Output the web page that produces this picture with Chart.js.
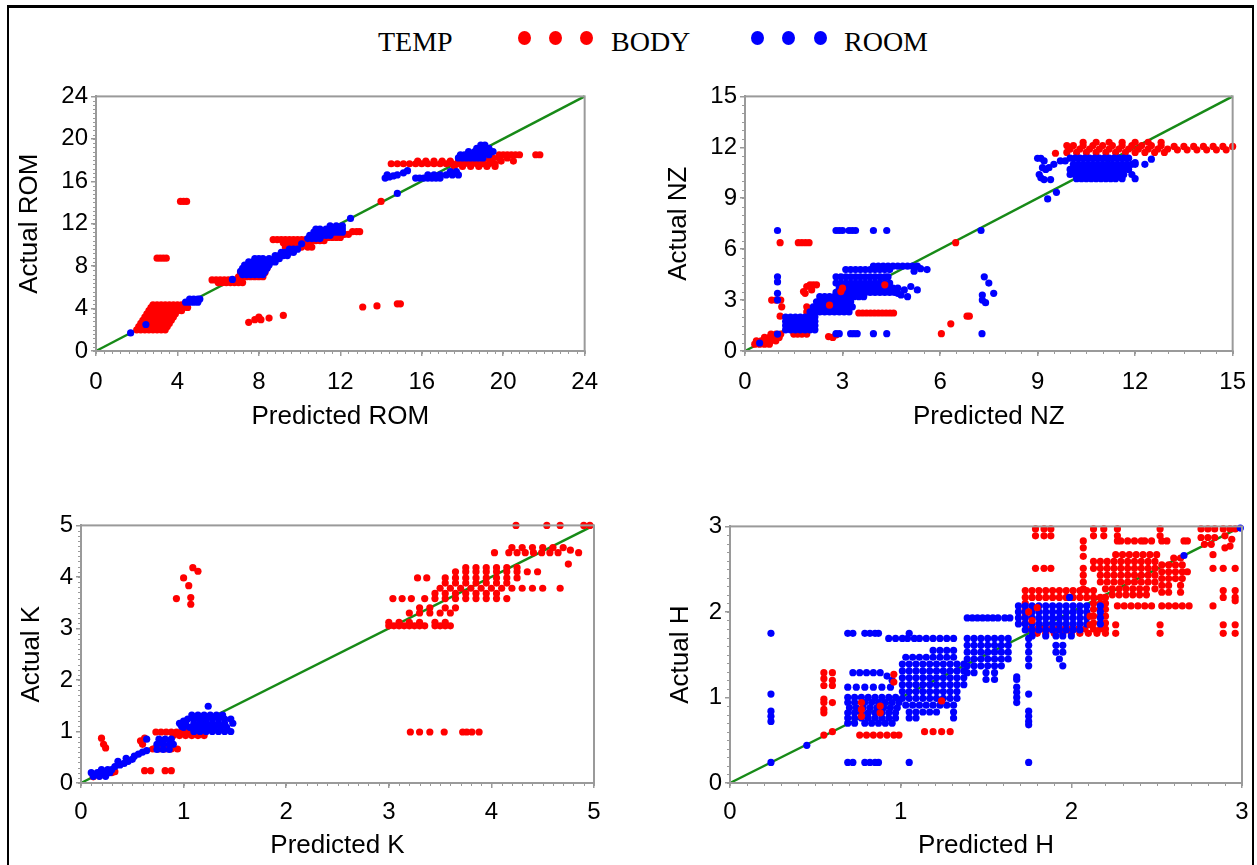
<!DOCTYPE html>
<html><head><meta charset="utf-8">
<script src="https://cdn.jsdelivr.net/npm/chart.js@4.4.1/dist/chart.umd.min.js"></script>
<style>
html,body{margin:0;padding:0;width:1257px;height:865px;overflow:hidden;background:#fff;position:relative;}
#frame{position:absolute;left:7px;top:5px;width:1247px;height:900px;border:2px solid #000;border-top-width:3px;box-sizing:border-box;}
.lg{position:absolute;font-family:"Liberation Serif","Times New Roman",serif;font-size:28px;color:#000;line-height:1;white-space:nowrap;}
.dot{position:absolute;width:13px;height:14px;border-radius:50%;}
</style></head><body>
<div id="frame"></div>
<div class="lg" style="left:378px;top:28px">TEMP</div>
<div class="dot" style="left:518px;top:31px;background:#f00"></div>
<div class="dot" style="left:549px;top:31px;background:#f00"></div>
<div class="dot" style="left:580px;top:31px;background:#f00"></div>
<div class="lg" style="left:611px;top:28px">BODY</div>
<div class="dot" style="left:751px;top:31px;background:#00f"></div>
<div class="dot" style="left:782px;top:31px;background:#00f"></div>
<div class="dot" style="left:814px;top:31px;background:#00f"></div>
<div class="lg" style="left:844px;top:28px">ROOM</div>
<script>
// ---------- data: rows are [actual, predicted, predicted, ...] ----------
const ROM_TICKS = [0,4,8,12,16,20,24];
const NZ_TICKS = [0,3,6,9,12,15];
const K_TICKS = [0,1,2,3,4,5];
const H_TICKS = [0,1,2,3];

const ROM_BODY = [
[2.0, 2.0,2.2,2.4,2.6,2.8,3.0,3.2,3.4],
[2.3, 2.1,2.3,2.5,2.7,2.9,3.1,3.3,3.5],
[2.6, 2.2,2.4,2.6,2.8,3.0,3.2,3.4,3.6],
[2.9, 2.3,2.5,2.7,2.9,3.1,3.3,3.5,3.7],
[3.2, 2.4,2.6,2.8,3.0,3.2,3.4,3.6,3.8],
[3.5, 2.5,2.7,2.9,3.1,3.3,3.5,3.7,3.9],
[3.8, 2.6,2.8,3.0,3.2,3.4,3.6,3.8,4.0,4.2],
[4.1, 2.7,2.9,3.1,3.3,3.5,3.7,3.9,4.1,4.3,4.5],
[4.35, 2.8,3.0,3.2,3.4,3.6,3.8,4.0,4.2,4.4],
[14.1, 4.15,4.3,4.45,14.0],
[8.75, 3.0,3.15,3.3,3.45],
[6.7, 5.7,5.9,6.1,6.3,6.5,6.7,6.9,7.1],
[6.45, 6.0,6.2,6.4,6.6,6.8,7.0,7.2],
[7.0, 7.0,7.2,7.4,7.6,7.8,8.0,8.2],
[7.4, 7.1,7.5,7.9,8.3],
[7.8, 7.3,7.8,8.4],
[10.5, 8.7,8.9,9.1,9.3,9.5,9.7,9.9,10.1,10.3],
[10.2, 9.2,9.4,9.6,9.8,10.0,10.2,10.4],
[9.8, 9.3,9.5,9.7,9.9,10.1,10.4,10.6],
[10.4, 10.6,10.8,11.0,11.2],
[10.7, 10.8,11.0,11.2,11.4,11.6,11.8,12.0],
[11.0, 11.4,11.6,11.8,12.0,12.2,12.4],
[11.25, 12.6,12.8,12.95],
[2.7, 7.5],[2.95, 7.8,8.1],[3.2, 8.0],[3.1, 8.5],[3.35, 9.2],
[4.15, 13.1],[4.25, 13.8],[4.45, 14.8,14.95],
[17.65, 14.5,14.8,15.1,15.4,15.7,16.0,16.3,16.6,16.9,17.2,17.5,17.8,18.1,18.4,18.7,19.0,19.3,19.6],
[17.9, 15.8,16.2,16.6,17.0,17.4,17.8,18.2,18.6,19.0,19.4],
[17.4, 17.6,18.0,18.4,18.8,19.2,19.6],
[18.2, 18.9,19.2,19.5,19.8,20.2],
[18.5, 19.8,20.0,20.2,20.4,20.6,20.8,21.6,21.8],
[17.9, 19.9,20.5]
];
const ROM_ROOM = [
[1.7, 1.7],[2.5, 2.45],
[4.6, 4.4,4.6,4.8,5.0],[4.9, 4.6,4.8,5.0,5.1],
[6.75, 6.7],
[7.2, 7.2,7.4,7.6,7.8,8.0,8.2],
[7.5, 7.1,7.3,7.5,7.7,7.9,8.1,8.3],
[7.8, 7.2,7.4,7.6,7.8,8.0,8.2,8.4],
[8.1, 7.3,7.5,7.7,7.9,8.1,8.3,8.5],
[8.4, 7.5,7.7,7.9,8.1,8.3,8.6,8.8],
[8.7, 7.8,8.0,8.2,8.5,8.8,9.0],
[9.0, 8.8,9.0,9.2,9.4],
[9.3, 9.1,9.3,9.5,9.7],
[9.6, 9.5,9.7,9.9],
[10.1, 10.1],
[10.6, 10.4,10.6,10.8,11.0],
[10.9, 10.5,10.7,10.9,11.1,11.3,11.5],
[11.2, 10.7,10.9,11.1,11.3,11.5,11.7,11.9,12.1],
[11.5, 10.8,11.0,11.3,11.6,11.9,12.1],
[11.8, 11.5,11.8,12.1],
[12.5, 12.5],[14.85, 14.8],
[16.3, 14.2],[16.4, 14.4],[16.5, 14.6],[16.6, 14.3,14.8],[16.8, 15.1],[17.0, 15.3],
[16.3, 15.7,15.9,16.1,16.3,16.5,16.7,16.9],
[16.6, 16.3,16.6,16.9,17.2,17.5,17.8],
[16.9, 17.4,17.7],
[18.2, 17.8,18.0,18.2,18.4,18.6,18.8,19.0],
[18.5, 17.9,18.1,18.4,18.7,19.0,19.3],
[18.8, 18.3,18.6,18.9,19.2,19.5],
[19.1, 18.7,18.9,19.1,19.3],
[19.4, 18.9,19.1]
];
const ROM_TOP = [];

const NZ_BODY = [
[0.4, 0.3,0.45,0.6,0.75],
[0.6, 0.35,0.5,0.65,0.8,0.95],
[0.8, 0.6,0.75,0.9,1.05],
[1.0, 0.8,0.95,1.1],
[2.05, 1.08],[2.6, 1.13],[3.0, 0.82,0.95,1.1],
[6.38, 1.08,1.64,1.75,1.86,1.97,6.48],
[1.0, 1.5,1.62,1.75,1.9],
[3.5, 1.8],[3.8, 1.9],[3.9, 2.0,2.1,2.2],[3.4, 1.85],[3.6, 2.05],
[2.3, 1.9],[2.6, 1.9],[2.5, 2.0],
[0.85, 2.57],[0.8, 2.7],[0.95, 2.8],
[2.24, 3.5,3.62,3.74,3.86,3.98,4.1,4.22,4.34,4.46,4.57],
[1.02, 6.04],[1.6, 6.33],[2.05, 6.83,6.9],
[11.65, 9.55],
[11.7, 9.9,10.2,10.5,10.8,11.1,11.4,11.7,12.0,12.3,12.6,12.9],
[11.9, 10.0,10.3,10.6,10.9,11.2,11.5,11.8,12.1,12.4,12.7,13.0],
[12.1, 9.9,10.1,10.4,10.7,11.0,11.3,11.6,11.9,12.2,12.5,12.8],
[12.3, 10.4,10.8,11.2,11.6,12.0,12.4,12.8],
[11.85, 13.3,13.6,13.9,14.2,14.5,14.8],
[12.05, 13.2,13.5,13.8,14.1,14.4,14.7,15.0]
];
const NZ_ROOM = [
[0.47, 0.45],[1.0, 1.0],
[7.1, 1.0],[4.37, 1.0],[4.07, 1.0],[3.4, 1.0],[3.0, 1.0],
[1.25, 1.25,1.4,1.55,1.7,1.85,2.0,2.15],
[1.5, 1.25,1.4,1.55,1.7,1.85,2.0,2.15],
[1.75, 1.25,1.4,1.55,1.7,1.85,2.0,2.15],
[2.0, 1.25,1.4,1.55,1.7,1.85,2.0,2.15],
[2.3, 2.0,2.15,2.3,2.45,2.6,2.75,2.9,3.05,3.2],
[2.6, 2.1,2.25,2.4,2.55,2.7,2.85,3.0,3.15,3.3],
[2.9, 2.2,2.35,2.5,2.65,2.8,2.95,3.1,3.25],
[3.2, 2.3,2.45,2.6,2.75,2.9,3.05,3.2,3.35,3.5,3.65],
[3.45, 2.8,2.95,3.1,3.25,3.4,3.55,3.7,3.85,4.0,4.15,4.3,4.45,4.6],
[3.7, 2.9,3.05,3.2,3.35,3.5,3.65,3.8,3.95,4.1,4.25,4.4,4.55,4.7],
[4.0, 2.8,2.95,3.1,3.25,3.4,3.55,3.7,3.85,4.0,4.15,4.3,4.45],
[4.37, 2.8,2.95,3.1,3.25,3.4,3.55,3.7,3.85,4.0,4.15,4.3,4.4,7.36],
[4.8, 3.1,3.25,3.4,3.55,3.7,3.85,4.0,4.15,4.3,4.45,5.6],
[5.0, 3.95,4.1,4.25,4.4,4.55,4.7,4.85,5.0,5.15,5.3],
[4.85, 5.4],[4.7, 5.2],
[3.4, 4.7,7.65],[3.6, 4.9,5.3],[3.8, 5.1],[3.2, 5.0],[3.3, 4.8,7.3],
[7.1, 2.8,2.9,3.0,3.2,3.3,3.4,3.95,4.36,7.26],
[1.02, 2.8,2.9,3.25,3.35,3.45,3.95,4.36,7.29],
[4.0, 7.5],[3.0, 7.3],[2.85, 7.4],
[8.96, 9.31],[9.35, 9.58],
[11.35, 9.0,9.1],[11.2, 9.2,9.7,9.85],[11.0, 9.5],[10.8, 9.15,9.35],[10.7, 9.25],[10.4, 9.05],[10.2, 9.1],[10.1, 9.2,9.4],
[11.36, 10.0,10.15,10.3,10.45,10.6,10.75,10.9,11.05,11.2,11.35,11.5,11.65,11.8],
[11.0, 10.1,10.25,10.4,10.55,10.7,10.85,11.0,11.15,11.3,11.45,11.6,11.75,11.9,12.0,12.3],
[10.7, 10.0,10.15,10.3,10.45,10.6,10.75,10.9,11.05,11.2,11.35,11.5,11.65,11.8],
[10.4, 10.0,10.15,10.3,10.45,10.6,10.75,10.9,11.05,11.2,11.35,11.5,11.65,11.9],
[10.15, 10.2,10.35,10.5,10.65,10.8,10.95,11.1,11.25,11.4,11.6,12.0],
[11.1, 12.0],[11.3, 12.5]
];
const NZ_TOP = [[3.7, 3.0],[3.5, 2.95],[3.9, 4.3],[2.7, 2.6]];

const K_BODY = [
[0.12, 0.12],[0.14, 0.18],[0.17, 0.24],[0.2, 0.3],[0.22, 0.2,0.33],[0.24, 0.27],
[0.87, 0.2],[0.75, 0.22],[0.68, 0.24],
[0.24, 0.62,0.68,0.82,0.88],
[0.82, 0.58],[0.87, 0.62],[0.75, 0.6],
[0.66, 0.7,0.76,0.82,0.88,0.94],
[0.99, 0.73,0.78,0.83,0.88,0.93,0.98,1.03,1.08,1.13,1.18,1.21],
[0.92, 0.9,0.96,1.02,1.08,1.14,1.2],
[3.58, 0.93],[3.98, 1.0],[3.83, 1.05],[3.47, 1.07],[3.6, 1.07],[4.18, 1.09],[4.11, 1.14],
[0.99, 3.21,3.3,3.4,3.54,3.72,3.76,3.81,3.88],
[3.05, 3.0,3.05,3.1,3.15,3.2,3.25,3.3,3.35,3.45,3.5,3.55,3.6],
[3.12, 3.0,3.1,3.2,3.3,3.45,3.55],
[3.3, 3.2,3.3,3.4,3.5,3.6],
[3.4, 3.3,3.4,3.55,3.65],
[3.58, 3.04,3.13,3.22,3.35,3.45,3.55,3.65,3.75,3.85,3.95,4.05,4.15],
[3.68, 3.45,3.55,3.65,3.75,3.85,3.95,4.05],
[3.78, 3.5,3.6,3.7,3.8,3.9,4.0,4.1,4.2,4.3,4.4,4.5,4.67],
[3.88, 3.55,3.65,3.75,3.85,3.95,4.05,4.15],
[3.98, 3.28,3.37,3.55,3.65,3.75,3.85,3.95,4.05,4.15,4.25],
[4.1, 3.65,3.75,3.85,3.95,4.05,4.15,4.25,4.35,4.45],
[4.18, 3.75,3.85,3.95,4.05,4.15,4.25],
[4.47, 4.03,4.17,4.25,4.33,4.41,4.49,4.57,4.65,4.85],
[4.57, 4.2,4.3,4.4,4.5,4.6,4.7],
[4.52, 4.77],
[5.0, 4.24,4.54,4.67,4.9,4.96],
[4.25, 4.75]
];
const K_ROOM = [
[0.13, 0.12,0.18,0.24],
[0.2, 0.1,0.16,0.22,0.28],
[0.26, 0.2,0.26,0.3],
[0.32, 0.33],[0.35, 0.38],[0.38, 0.42],[0.42, 0.46,0.36],[0.46, 0.5],[0.48, 0.44],
[0.52, 0.52],[0.56, 0.56],[0.6, 0.6],[0.63, 0.64],[0.85, 0.64],
[0.65, 0.74,0.8,0.86],
[0.75, 0.74,0.8,0.86,0.9],
[0.85, 0.76,0.82,0.88],
[1.0, 1.1,1.16,1.22,1.28,1.34,1.4,1.46],
[1.08, 1.0,1.06,1.12,1.18,1.24,1.3,1.36,1.42],
[1.16, 0.96,1.02,1.1,1.16,1.22,1.28,1.34,1.4,1.48],
[1.24, 1.04,1.1,1.16,1.22,1.28,1.34,1.4,1.46],
[1.32, 1.08,1.14,1.2,1.26,1.32,1.38],
[1.49, 1.24],[1.2, 1.0],[1.1, 0.98]
];
const K_TOP = [];

const H_BODY = [
[1.29, 0.55,0.6],[1.22, 0.55],[1.2, 0.6],[1.14, 0.55,0.6],[0.98, 0.55],[0.94, 0.55,0.6],[0.86, 0.55],[0.82, 0.55],
[0.56, 0.55,0.76,0.8,0.84,0.88,0.92,0.96,0.99],
[0.6, 0.6,1.14,1.19,1.24,1.29],
[0.96, 1.24],
[2.25, 1.73,1.77,1.81,1.85,1.89,1.93,1.97,2.01,2.05,2.09,2.13],
[2.17, 1.73,1.77,1.81,1.85,1.89,1.93,1.97,2.01,2.05,2.09,2.13,2.17,2.2],
[2.1, 1.73,2.13,2.17,2.2],
[2.03, 1.73,2.13,2.17,2.2],
[1.95, 1.73,2.13,2.17,2.2],
[1.87, 1.73,2.13,2.17,2.2],
[1.8, 1.76,1.8,1.84,1.88,1.92,1.96,2.0,2.04,2.08,2.13,2.17,2.2],
[1.75, 1.8,1.85,1.9,1.95,2.0,2.05,2.1,2.15,2.2,2.26,2.52,2.89,2.96],
[1.85, 2.26,2.52,2.89,2.96],
[2.97, 1.79,1.84,1.88,2.13,2.19,2.27,2.52,2.76,2.8,2.84,2.89,2.93,2.96],
[2.89, 1.79,1.84,1.88,2.13,2.19,2.27,2.52,2.9],
[2.51, 1.79,1.84,1.88,2.83,2.89,2.96],
[2.83, 2.07,2.27,2.29,2.33,2.37,2.41,2.43,2.47,2.53,2.56,2.66,2.68],
[2.75, 2.07,2.9],
[2.65, 2.07],
[2.67, 2.26,2.3,2.34,2.38,2.42,2.46,2.5,2.83],
[2.59, 2.13,2.17,2.21,2.25,2.29,2.33,2.37,2.41,2.45,2.49],
[2.51, 2.07,2.13,2.17,2.21,2.25,2.29,2.33,2.37,2.41,2.45,2.49],
[2.43, 2.07,2.17,2.21,2.25,2.29,2.33,2.37,2.41,2.45,2.49],
[2.35, 2.07,2.17,2.21,2.25,2.29,2.33,2.37,2.41,2.45,2.49],
[2.27, 2.07,2.2,2.24,2.28,2.32,2.36,2.4,2.44,2.49],
[2.2, 2.24,2.28,2.32,2.36,2.4,2.44],
[2.63, 2.6,2.64],
[2.55, 2.53,2.57,2.61,2.65],
[2.47, 2.53,2.57,2.61,2.65,2.68],
[2.39, 2.53,2.57,2.61,2.65],
[2.31, 2.53,2.57,2.64],
[2.23, 2.53,2.57,2.64],
[2.07, 2.27,2.31,2.35,2.39,2.43,2.47,2.53,2.57,2.61,2.65,2.69,2.83],
[2.87, 2.76,2.8,2.84],[2.79, 2.78,2.82],
[2.85, 2.94],[2.77, 2.93],
[2.17, 2.89,2.96],[2.25, 2.89,2.96],[2.13, 2.96]
];
const H_ROOM = [
[1.75, 0.24,0.69,0.72,0.79,0.82,0.85,0.87,1.05],
[1.04, 0.24,1.75],
[0.84, 0.24,1.75],[0.78, 0.24,1.75],[0.72, 0.24,1.75],[0.68, 1.75],
[0.24, 0.24,0.69,0.72,0.79,0.82,0.85,0.87,1.05,1.75],
[0.44, 0.45],
[1.0, 0.69,0.73,0.77,0.81,0.85,0.89,0.93,0.97],
[0.94, 0.69,0.73,0.79,0.83,0.87,0.91,0.95,0.99],
[0.88, 0.7,0.74,0.78,0.82,0.86,0.9,0.94,0.98],
[0.82, 0.69,0.73,0.77,0.81,0.85,0.89,0.93,0.97],
[0.76, 0.69,0.73,0.77,0.81,0.85,0.89,0.93,0.97],
[0.7, 0.69,0.73,0.79,0.83,0.87,0.91,0.95],
[1.12, 0.69,0.74,0.79,0.84,0.89,0.94],
[1.29, 0.72,0.76,0.8,0.84,0.88],
[1.25, 0.92],[1.2, 0.95],
[1.69, 0.93,0.97,1.01,1.04,1.08,1.11,1.15,1.19,1.23,1.27,1.31,1.39,1.43,1.47,1.51,1.55,1.59,1.63,1.75],
[1.55, 1.19,1.23,1.27,1.31],
[1.47, 1.03,1.07,1.11,1.15,1.19,1.23,1.27,1.31],
[1.39, 1.01,1.05,1.09,1.13,1.17,1.21,1.25,1.29,1.33,1.37],
[1.31, 1.01,1.05,1.09,1.13,1.17,1.21,1.25,1.29,1.33,1.37],
[1.23, 1.01,1.05,1.09,1.13,1.17,1.21,1.25,1.29,1.33,1.37],
[1.15, 1.01,1.05,1.09,1.13,1.17,1.21,1.25,1.29,1.33,1.37],
[1.07, 1.01,1.05,1.09,1.13,1.17,1.21,1.25,1.29,1.33],
[0.99, 1.01,1.05,1.09,1.13,1.17,1.21,1.25,1.29,1.33],
[0.91, 1.03,1.07,1.11,1.15,1.19,1.23,1.27,1.31],
[0.83, 1.05,1.09,1.13,1.17,1.21,1.31],
[0.76, 1.05,1.09,1.31],
[1.93, 1.39,1.42,1.45,1.48,1.51,1.54,1.57,1.61,1.64],
[1.61, 1.39,1.43,1.47,1.51,1.55,1.59,1.63,1.75,1.91,1.95],
[1.53, 1.39,1.43,1.47,1.51,1.55,1.59,1.63,1.75,1.91,1.95],
[1.45, 1.39,1.43,1.47,1.51,1.55,1.59,1.63,1.75,1.93],
[1.37, 1.39,1.43,1.47,1.51,1.55,1.59,1.75,1.95],
[1.29, 1.39,1.43,1.5,1.55],
[1.21, 1.5,1.55,1.68],
[1.24, 1.68],[1.12, 1.68],[1.06, 1.68],[1.0, 1.68],[0.94, 1.68],
[2.07, 1.69,1.73,1.77,1.81,1.85,1.89,1.93,1.97,2.01,2.05,2.09,2.17],
[2.0, 1.69,1.73,1.77,1.81,1.85,1.89,1.93,1.97,2.01,2.05,2.09,2.17],
[1.93, 1.69,1.73,1.77,1.81,1.85,1.89,1.93,1.97,2.01,2.05,2.09,2.17],
[1.86, 1.69,1.73,1.77,1.81,1.85,1.89,1.93,1.97,2.01,2.05,2.09,2.17],
[1.79, 1.73,1.77,1.81,1.85,1.89,1.93,1.97,2.01,2.05],
[1.72, 1.77,1.85,1.91,1.95,2.0],
[2.17, 1.99],
[2.66, 2.66],[2.98, 2.99]
];
const H_TOP = [[0.78, 0.77],[0.86, 0.77],[0.94, 0.77],[0.82, 0.88],[0.9, 0.88],[1.18, 0.96],[1.27, 0.96],[0.96, 1.24],[2.0, 1.75],[1.9, 1.77],[2.05, 1.8],[1.85, 2.11],[1.95, 2.11]];

// ---------- rendering ----------
const RED = '#ff0000', BLUE = '#0000ff', GREEN = '#178a17', GREY = '#9a9a9a';
const AXW = 95, AXH = 90, PADT = 16, PADR = 22, PR = 3.6;

const PANELS = [
 {L:96, T:95, R:588, B:351, min:0, max:24, ticks:ROM_TICKS, minor:0.4, xt:'Predicted ROM', yt:'Actual ROM', body:ROM_BODY, room:ROM_ROOM, top:ROM_TOP, xlp:12, xtp:9, ytp:13},
 {L:745, T:95, R:1236, B:351, min:0, max:15, ticks:NZ_TICKS, minor:0.5, xt:'Predicted NZ', yt:'Actual NZ', body:NZ_BODY, room:NZ_ROOM, top:NZ_TOP, xlp:12, xtp:9, ytp:13},
 {L:81, T:524, R:594, B:783, min:0, max:5, ticks:K_TICKS, minor:0.1, xt:'Predicted K', yt:'Actual K', body:K_BODY, room:K_ROOM, top:K_TOP, xlp:10, xtp:12, ytp:30},
 {L:730, T:525, R:1242, B:783, min:0, max:3, ticks:H_TICKS, minor:0.1, xt:'Predicted H', yt:'Actual H', body:H_BODY, room:H_ROOM, top:H_TOP, xlp:10, xtp:12, ytp:30}
];

function pts(rows){const out=[];rows.forEach(r=>{for(let i=1;i<r.length;i++)out.push({x:r[i],y:r[0]});});return out;}

const framePlugin = {
  id:'frameBox',
  afterDatasetsDraw(chart){
    const {ctx, chartArea:a} = chart;
    ctx.save(); ctx.strokeStyle = GREY; ctx.lineWidth = 2;
    ctx.strokeRect(a.left, a.top, a.right-a.left, a.bottom-a.top);
    ctx.restore();
  }
};
const minorPlugin = {
  id:'minorTicks',
  afterDraw(chart, args, o){
    const {ctx, chartArea:a, scales:{x, y}} = chart;
    ctx.save(); ctx.strokeStyle = GREY; ctx.lineWidth = 1;
    ctx.beginPath();
    const n = Math.round((o.max-o.min)/o.step);
    for(let i=0;i<=n;i++){
      const v = o.min + i*o.step;
      const px = Math.round(x.getPixelForValue(v))+0.5;
      ctx.moveTo(px, a.bottom); ctx.lineTo(px, a.bottom+3);
      const py = Math.round(y.getPixelForValue(v))+0.5;
      ctx.moveTo(a.left, py); ctx.lineTo(a.left-3, py);
    }
    ctx.stroke(); ctx.restore();
  }
};

Chart.defaults.font.family = '"Liberation Sans", Arial, sans-serif';
Chart.defaults.color = '#000';

PANELS.forEach(p=>{
  const cv = document.createElement('canvas');
  const W = (p.R-p.L)+AXW+PADR, H = (p.B-p.T)+PADT+AXH;
  cv.width = W; cv.height = H;
  cv.style.cssText = `position:absolute;left:${p.L-AXW}px;top:${p.T-PADT}px;width:${W}px;height:${H}px;`;
  document.body.appendChild(cv);
  const scatterDs = (rows, col, ord) => ({type:'scatter', data:pts(rows), backgroundColor:col, borderColor:col, borderWidth:0, pointRadius:PR, pointHoverRadius:PR, order:ord, clip:false});
  const axis = (pos, title, tp) => ({
    type:'linear', position:pos, min:p.min, max:p.max,
    afterBuildTicks: s => { s.ticks = p.ticks.map(v=>({value:v})); },
    afterFit: s => { if(pos==='bottom') s.height = AXH; else s.width = AXW; },
    grid:{drawOnChartArea:false, drawTicks:true, tickLength:5, color:GREY, lineWidth:1.5},
    border:{display:true, color:GREY, width:2},
    ticks:{font:{size:24}, color:'#000', padding: pos==='bottom' ? p.xlp : 3, maxRotation:0, autoSkip:false},
    title:{display:true, text:title, color:'#000', font:{size:26}, padding: pos==='bottom' ? {top:0,bottom:tp} : {top:tp,bottom:0}}
  });
  new Chart(cv, {
    type:'scatter',
    data:{datasets:[
      {type:'line', data:[{x:p.min,y:p.min},{x:p.max,y:p.max}], borderColor:GREEN, borderWidth:2.5, pointRadius:0, order:9, clip:false},
      scatterDs(p.body, RED, 3),
      scatterDs(p.room, BLUE, 2),
      scatterDs(p.top, RED, 1)
    ]},
    options:{
      responsive:false, animation:false, devicePixelRatio:1,
      layout:{padding:{left:0, top:PADT, right:PADR, bottom:0}},
      plugins:{legend:{display:false}, tooltip:{enabled:false}, minorTicks:{min:p.min, max:p.max, step:p.minor}},
      scales:{ x: axis('bottom', p.xt, p.xtp), y: axis('left', p.yt, p.ytp) }
    },
    plugins:[framePlugin, minorPlugin]
  });
});
</script>
</body></html>
